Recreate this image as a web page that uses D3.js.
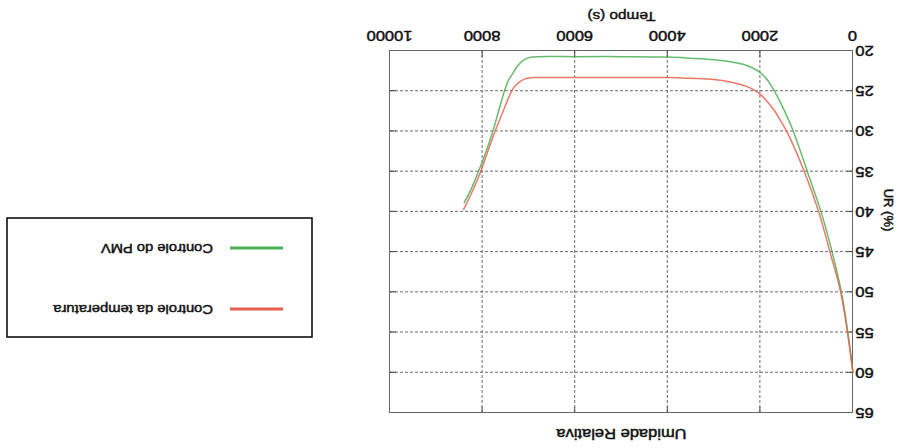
<!DOCTYPE html>
<html><head><meta charset="utf-8">
<script src="https://cdn.jsdelivr.net/npm/d3@7"></script>
<style>html,body{margin:0;padding:0;background:#fff;} svg{display:block;}</style>
</head><body><svg id="c" width="900" height="448"></svg>
<script>
// ---- data ----
const xTicks = [0, 2000, 4000, 6000, 8000, 10000];
const yTicks = [20, 25, 30, 35, 40, 45, 50, 55, 60, 65];
const seriesNames = ["Controle da temperatura", "Controle do PMV"];
const titleText = "Umidade Relativa";
const xLabel = "Tempo (s)";
const yLabel = "UR (%)";

const tempoTemp = [0, 120, 265, 497, 740, 1050, 1432, 1570, 1700, 1850, 2000, 2150, 2300, 2657, 3000, 3500, 4000, 5000, 6000, 6900, 7000, 7100, 7200, 7300, 7372, 7550, 7732, 7890, 8041, 8250, 8416];
const urTemp    = [60, 55, 50, 45, 40, 35, 30, 28.6, 27.4, 26.3, 25.4, 24.8, 24.4, 23.85, 23.55, 23.4, 23.3, 23.3, 23.3, 23.3, 23.35, 23.5, 23.85, 24.35, 24.95, 27.4, 30, 32.5, 35, 37.8, 39.76];

const tempoPMV = [0, 110, 250, 450, 690, 985, 1287, 1500, 1685, 1850, 2000, 2250, 2500, 3000, 3500, 4000, 5000, 6000, 6800, 6940, 7050, 7150, 7250, 7350, 7450, 7530, 7650, 7781, 7950, 8092, 8250, 8402];
const urPMV    = [60, 55, 50, 45, 40, 35, 30, 27.2, 25.1, 23.6, 22.7, 21.9, 21.5, 21.1, 20.9, 20.75, 20.7, 20.7, 20.7, 20.75, 20.95, 21.3, 21.9, 22.8, 23.75, 25, 27.4, 30, 32.9, 35, 37.2, 38.9];

// ---- drawing ----
const colTemp = "#e8604c", colPMV = "#4caf55";
const SX = 1.18;
const FONT = "'Liberation Sans', Arial, Helvetica, sans-serif";
const svg = d3.select("#c");
const g = svg.append("g").attr("transform", "rotate(180 450 224)");

const L = 47, R = 510, T = 35, B = 397;
const x = d3.scaleLinear().domain([0, 10000]).range([L, R]);
const y = d3.scaleLinear().domain([20, 65]).range([B, T]);

// grid
const grid = g.append("g").attr("stroke", "#6a6a6a").attr("stroke-width", 1).attr("stroke-dasharray", "3,2");
grid.selectAll(".gx").data(xTicks.slice(1, -1)).join("line")
  .attr("x1", d => x(d) + 0.5).attr("x2", d => x(d) + 0.5).attr("y1", T).attr("y2", B);
grid.selectAll(".gy").data(yTicks.slice(1, -1)).join("line")
  .attr("y1", d => y(d) + 0.5).attr("y2", d => y(d) + 0.5).attr("x1", L).attr("x2", R);

// inward ticks on all sides
const tk = g.append("g").attr("stroke", "#444").attr("stroke-width", 1);
tk.selectAll(".tb").data(xTicks).join("line")
  .attr("x1", d => x(d) + 0.5).attr("x2", d => x(d) + 0.5).attr("y1", B).attr("y2", B - 6);
tk.selectAll(".tt").data(xTicks).join("line")
  .attr("x1", d => x(d) + 0.5).attr("x2", d => x(d) + 0.5).attr("y1", T).attr("y2", T + 6);
tk.selectAll(".tl").data(yTicks).join("line")
  .attr("y1", d => y(d) + 0.5).attr("y2", d => y(d) + 0.5).attr("x1", L).attr("x2", L + 6);
tk.selectAll(".tr").data(yTicks).join("line")
  .attr("y1", d => y(d) + 0.5).attr("y2", d => y(d) + 0.5).attr("x1", R).attr("x2", R - 6);

// border
g.append("rect").attr("x", L + 0.5).attr("y", T + 0.5).attr("width", R - L).attr("height", B - T)
  .attr("fill", "none").attr("stroke", "#666").attr("stroke-width", 1);

// text style helper
function styleText(sel, size) {
  sel.attr("font-size", size).attr("font-family", FONT).attr("fill", "#111")
     .attr("stroke", "#111").attr("stroke-width", 0.45);
}

// axes (labels only)
const ax = g.append("g").attr("transform", `translate(0,${B})`)
  .call(d3.axisBottom(x).tickValues(xTicks).tickFormat(d3.format("d")).tickSize(0).tickPadding(10));
ax.select(".domain").remove();
styleText(ax.selectAll("text"), 14);
ax.selectAll("text").attr("transform", `scale(${SX},1)`);

const ay = g.append("g").attr("transform", `translate(${L},0)`)
  .call(d3.axisLeft(y).tickValues(yTicks).tickSize(0).tickPadding(2));
ay.select(".domain").remove();
styleText(ay.selectAll("text"), 14);
ay.selectAll("text").attr("transform", `scale(${SX},1)`);

// curves
const line = d3.line().x(d => x(d[0])).y(d => y(d[1])).curve(d3.curveCatmullRom.alpha(0.5));
const dTemp = tempoTemp.map((t, i) => [t, urTemp[i]]);
const dPMV = tempoPMV.map((t, i) => [t, urPMV[i]]);
g.append("path").datum(dPMV).attr("d", line).attr("fill", "none").attr("stroke", colPMV).attr("stroke-width", 1.5).attr("stroke-opacity", 0.85);
g.append("path").datum(dTemp).attr("d", line).attr("fill", "none").attr("stroke", colTemp).attr("stroke-width", 1.5).attr("stroke-opacity", 0.85);

// titles
styleText(g.append("text").attr("transform", `translate(${(L + R) / 2},19) scale(${SX},1)`)
  .attr("text-anchor", "middle").text(titleText), 14);
styleText(g.append("text").attr("transform", `translate(${(L + R) / 2},436) scale(${SX},1)`)
  .attr("text-anchor", "middle").text(xLabel), 13);
styleText(g.append("text").attr("transform", `translate(16,238) rotate(-90)`)
  .attr("text-anchor", "middle").text(yLabel), 13);

// legend
const lg = g.append("g");
lg.append("rect").attr("x", 588).attr("y", 111).attr("width", 305).attr("height", 119)
  .attr("fill", "none").attr("stroke", "#111").attr("stroke-width", 1.6);
const items = [{name: seriesNames[0], c: colTemp, yy: 139}, {name: seriesNames[1], c: colPMV, yy: 200}];
items.forEach(it => {
  lg.append("line").attr("x1", 617).attr("x2", 670).attr("y1", it.yy).attr("y2", it.yy)
    .attr("stroke", it.c).attr("stroke-width", 3);
  styleText(lg.append("text").attr("transform", `translate(687,${it.yy + 4.5}) scale(${SX},1)`)
    .text(it.name), 12.5);
});
</script>
</body></html>
